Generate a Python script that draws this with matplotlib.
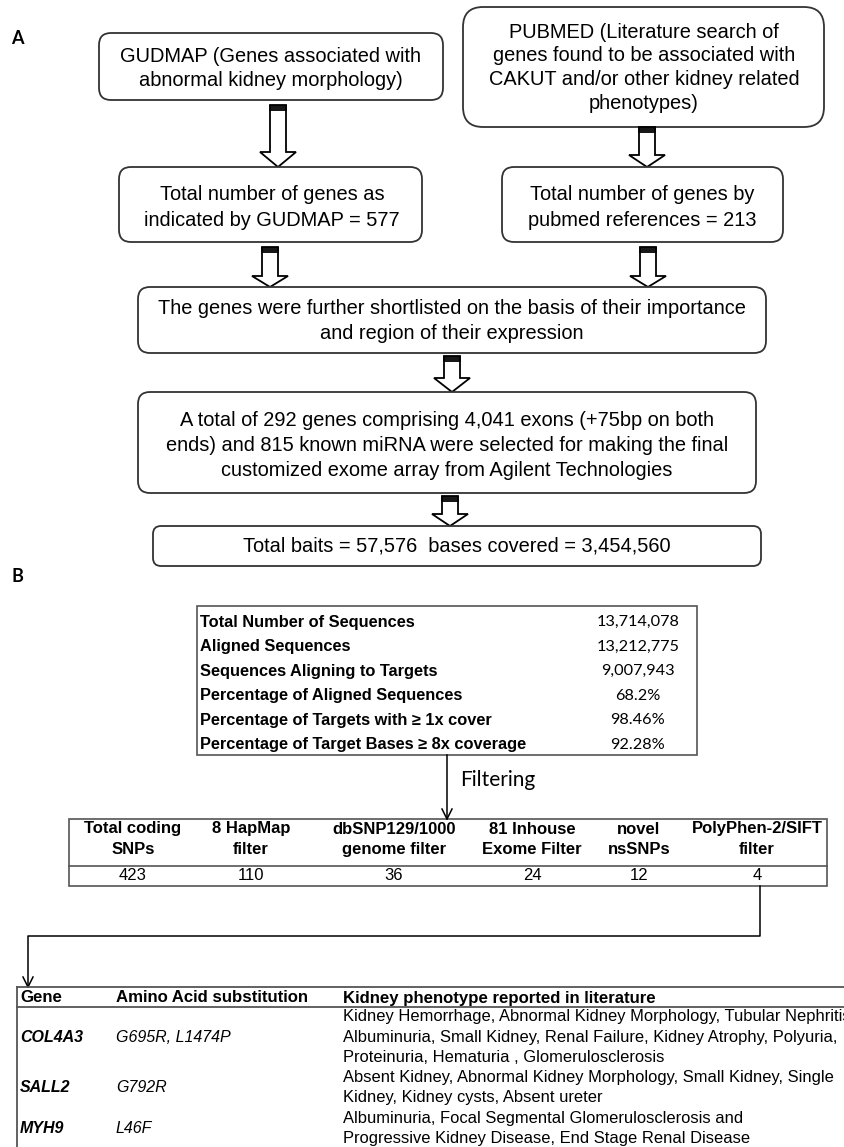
"""
Exome capture workflow figure.

Panel A: gene selection flowchart (GUDMAP + PUBMED -> custom exome array)
Panel B: sequencing summary, SNP filtering cascade and candidate genes
"""

import matplotlib
matplotlib.use("Agg")
import matplotlib.pyplot as plt
from matplotlib.patches import FancyBboxPatch, Polygon, Rectangle

# ---- Panel A text ----
GUDMAP_TEXT = ["GUDMAP (Genes associated with", "abnormal kidney morphology)"]
PUBMED_TEXT = ["PUBMED (Literature search of", "genes found to be associated with",
               "CAKUT and/or other kidney related", "phenotypes)"]
GUDMAP_TOTAL = ["Total number of genes as", "indicated by GUDMAP = 577"]
PUBMED_TOTAL = ["Total number of genes by", "pubmed references = 213"]
SHORTLIST_TEXT = ["The genes were further shortlisted on the basis of their importance",
                  "and region of their expression"]
SELECTION_TEXT = ["A total of 292 genes comprising 4,041 exons (+75bp on both",
                  "ends) and 815 known miRNA were selected for making the final",
                  "customized exome array from Agilent Technologies"]
BAITS_TEXT = ["Total baits = 57,576  bases covered = 3,454,560"]

# ---- Panel B: sequencing summary ----
SEQ_LABELS = ["Total Number of Sequences", "Aligned Sequences",
              "Sequences Aligning to Targets", "Percentage of Aligned Sequences",
              "Percentage of Targets with \u2265 1x cover",
              "Percentage of Target Bases \u2265 8x coverage"]
SEQ_VALUES = ["13,714,078", "13,212,775", "9,007,943", "68.2%", "98.46%", "92.28%"]

# ---- Panel B: filtering cascade ----
FILTER_HEADERS = [["Total coding", "SNPs"], ["8 HapMap", "filter"],
                  ["dbSNP129/1000", "genome filter"], ["81 Inhouse", "Exome Filter"],
                  ["novel", "nsSNPs"], ["PolyPhen-2/SIFT", "filter"]]
FILTER_COUNTS = [423, 110, 36, 24, 12, 4]

# ---- Panel B: candidate genes ----
GENE_HEADERS = ["Gene", "Amino Acid substitution", "Kidney phenotype reported in literature"]
GENES = ["COL4A3", "SALL2", "MYH9"]
SUBSTITUTIONS = ["G695R, L1474P", "G792R", "L46F"]
PHENOTYPES = [
    ["Kidney Hemorrhage, Abnormal Kidney Morphology, Tubular Nephritis",
     "Albuminuria, Small Kidney, Renal Failure, Kidney Atrophy, Polyuria,",
     "Proteinuria, Hematuria , Glomerulosclerosis"],
    ["Absent Kidney, Abnormal Kidney Morphology, Small Kidney, Single",
     "Kidney, Kidney cysts, Absent ureter"],
    ["Albuminuria, Focal Segmental Glomerulosclerosis and",
     "Progressive Kidney Disease, End Stage Renal Disease"],
]

ARIAL = "Liberation Sans"
CALIBRI = "Lato"
EDGE = "#333333"
GRID = "#555555"


def rounded_box(ax, x0, y0, x1, y1, radius=12):
    ax.add_patch(FancyBboxPatch((x0, y0), x1 - x0, y1 - y0,
                                boxstyle=f"round,pad=0,rounding_size={radius}",
                                facecolor="white", edgecolor=EDGE, lw=1.3))


def text_lines(ax, x, y_first, lines, step, **kw):
    for i, line in enumerate(lines):
        ax.text(x, y_first + i * step, line, va="center", **kw)


def block_arrow(ax, cx, top, head_base, tip, shaft=16, head=36):
    s, h = shaft / 2, head / 2
    pts = [(cx - s, top), (cx + s, top), (cx + s, head_base), (cx + h, head_base),
           (cx, tip), (cx - h, head_base), (cx - s, head_base)]
    ax.add_patch(Polygon(pts, closed=True, facecolor="white", edgecolor="black", lw=1.3))
    # dark striped cap on the shaft
    for dy in (0.8, 3.0, 5.2):
        ax.plot([cx - s, cx + s], [top + dy, top + dy], color="black", lw=1.3)


def line_arrow(ax, xs, ys):
    ax.plot(xs, ys, color="black", lw=1.1)
    tx, ty = xs[-1], ys[-1]
    ax.plot([tx - 5, tx, tx + 5], [ty - 10, ty, ty - 10], color="black", lw=1.1)


def create_figure():
    fig = plt.figure(figsize=(8.45, 11.47), dpi=100)
    ax = fig.add_axes([0, 0, 1, 1])
    ax.set_xlim(0, 845)
    ax.set_ylim(1147, 0)
    ax.axis("off")

    box_kw = dict(ha="center", fontsize=14.4, family=ARIAL)

    # ---------------- Panel A ----------------
    ax.text(17, 38, "A", ha="center", va="center", fontsize=13, fontweight="bold", family=CALIBRI)

    rounded_box(ax, 99, 33, 443, 100)
    text_lines(ax, 271, 56, GUDMAP_TEXT, 24, **box_kw)
    rounded_box(ax, 463, 7, 824, 127, radius=20)
    text_lines(ax, 644, 32, PUBMED_TEXT, 23.7, **box_kw)

    block_arrow(ax, 278, 105, 152, 167)
    block_arrow(ax, 647, 127, 155, 167)

    rounded_box(ax, 119, 167, 422, 242)
    text_lines(ax, 272, 195, GUDMAP_TOTAL, 25, **box_kw)
    rounded_box(ax, 502, 167, 783, 242)
    text_lines(ax, 642, 195, PUBMED_TOTAL, 25, **box_kw)

    block_arrow(ax, 270, 247, 276, 287)
    block_arrow(ax, 648, 247, 276, 287)

    rounded_box(ax, 138, 287, 766, 353)
    text_lines(ax, 452, 309, SHORTLIST_TEXT, 24.5, **box_kw)

    block_arrow(ax, 452, 356, 378, 392)

    rounded_box(ax, 138, 392, 756, 493)
    text_lines(ax, 447, 421, SELECTION_TEXT, 24.5, **box_kw)

    block_arrow(ax, 450, 496, 514, 526)

    rounded_box(ax, 153, 526, 761, 566, radius=8)
    text_lines(ax, 457, 546, BAITS_TEXT, 0, **box_kw)

    # ---------------- Panel B ----------------
    ax.text(17, 577, "B", ha="center", va="center", fontsize=13, fontweight="bold", family=CALIBRI)

    # sequencing summary table
    ax.add_patch(Rectangle((197, 606), 500, 149, facecolor="none", edgecolor=GRID, lw=1.2))
    for i, (lab, val) in enumerate(zip(SEQ_LABELS, SEQ_VALUES)):
        y = 622 + i * 24.6
        ax.text(200, y, lab, ha="left", va="center", fontsize=11.8,
                fontweight="bold", family=ARIAL)
        ax.text(638, y, val, ha="center", va="center", fontsize=11.7, family=CALIBRI)

    line_arrow(ax, [447, 447], [755, 819])
    ax.text(460, 780, "Filtering", ha="left", va="center", fontsize=15, family=CALIBRI)

    # filtering cascade table
    ax.add_patch(Rectangle((69, 819), 758, 67, facecolor="none", edgecolor=GRID, lw=1.2))
    ax.plot([69, 827], [866, 866], color=GRID, lw=1.2)
    col_x = [133, 251, 394, 532, 639, 757]
    for cx, head, n in zip(col_x, FILTER_HEADERS, FILTER_COUNTS):
        text_lines(ax, cx, 829, head, 20.5, ha="center", fontsize=12,
                   fontweight="bold", family=ARIAL)
        ax.text(cx, 876, str(n), ha="center", va="center", fontsize=12, family=ARIAL)

    line_arrow(ax, [760, 760, 28, 28], [886, 936, 936, 987])

    # candidate genes table
    ax.plot([17, 845], [987, 987], color=GRID, lw=1.3)
    ax.plot([17, 845], [1007, 1007], color=GRID, lw=1.3)
    ax.plot([17, 17], [987, 1147], color=GRID, lw=1.3)
    for x, head in zip([20, 116, 343], GENE_HEADERS):
        ax.text(x, 998, head, ha="left", va="center", fontsize=12.1,
                fontweight="bold", family=ARIAL)

    y = 1017
    step = 20.2
    for gene, sub, pheno in zip(GENES, SUBSTITUTIONS, PHENOTYPES):
        mid = y + step * (len(pheno) - 1) / 2
        ax.text(20, mid, gene, ha="left", va="center", fontsize=11.5,
                fontweight="bold", style="italic", family=ARIAL)
        ax.text(116, mid, sub, ha="left", va="center", fontsize=11.5,
                style="italic", family=ARIAL)
        text_lines(ax, 343, y, pheno, step, ha="left", fontsize=11.85, family=ARIAL)
        y += step * len(pheno)

    fig.savefig("out.png", dpi=100)
    plt.close(fig)


if __name__ == "__main__":
    create_figure()
